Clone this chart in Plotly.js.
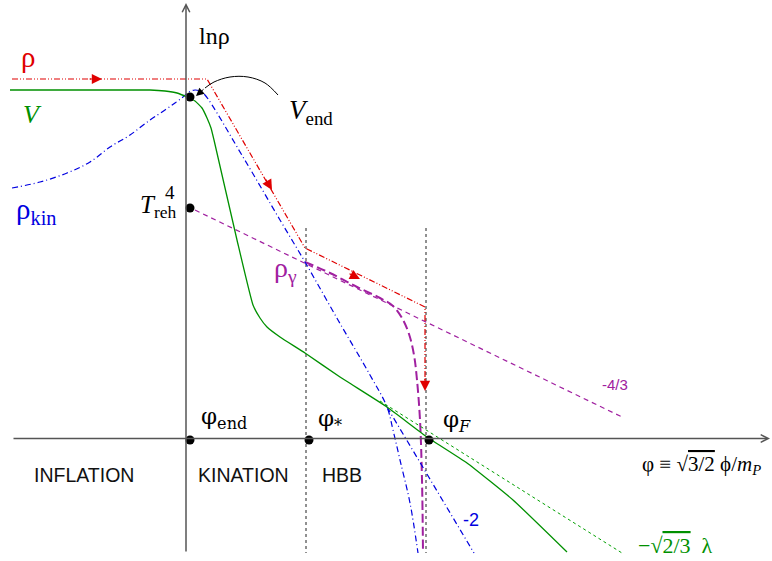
<!DOCTYPE html>
<html>
<head>
<meta charset="utf-8">
<script src="https://cdn.plot.ly/plotly-3.0.1.min.js"></script>
<style>html,body{margin:0;padding:0;background:#fff}#Graph{width:772px;height:561px}</style>
</head>
<body>
<div id="Graph"></div>
<script>
// schematic drawn in pixel-like units: x to the right, y downwards
var rhoX = [12, 207, 305, 425, 425];
var rhoY = [79, 79, 248, 307, 385];
// arrow tips and tails along the rho path
var rhoTipX = [102, 272, 360, 425];
var rhoTipY = [79, 190, 279, 391];
var rhoTailX = [88, 265, 348, 425];
var rhoTailY = [79, 178, 273, 377];

var kinX = [12, 40, 67, 90, 110, 130, 150, 165, 175, 183, 189, 195, 200, 205, 243, 280, 305, 338, 370, 387, 393, 400, 410, 418];
var kinY = [188, 182, 173, 162, 147, 135, 120, 110, 103, 97, 92, 90, 91, 95, 157, 220, 262, 320, 375, 407, 430, 460, 503, 553];
var kinSlopeX = [387, 474];
var kinSlopeY = [407, 553];

var vX = [10, 150, 165, 177, 187, 195, 202, 207, 211, 214, 237, 253, 260, 267, 280, 305, 340, 387, 427, 467, 513, 567];
var vY = [90, 90, 91, 93, 97, 101, 108, 118, 128, 140, 240, 305, 318, 327, 337, 353, 377, 407, 437, 463, 500, 552];
var lambdaX = [380, 622];
var lambdaY = [401, 553];

var gammaX = [195, 622];
var gammaY = [210, 417];
var gammaCurveX = [305, 330, 357, 380, 393, 402, 409, 414, 417, 420, 422, 423];
var gammaCurveY = [262, 273, 287, 298, 306, 318, 334, 355, 380, 420, 480, 553];

var phiLinesX = [306, 306, null, 426, 426];
var phiLinesY = [228, 553, null, 228, 553];

var dotX = [190, 190, 190, 309, 429];
var dotY = [97, 208, 440, 440, 440];

var arcX = [278, 265, 248, 230, 214, 205];
var arcY = [95, 83, 77, 77, 82, 88];

var axisX = 186, axisY = 438.5;

var labels = [
  ['ln\u03c1', 214, 36, 24, 'black', 'Liberation Serif'],
  ['\u03c1', 28, 57, 29, '#e00000', 'Liberation Serif'],
  ['<i>V</i>', 32, 114, 26, '#009000', 'Liberation Serif'],
  ['\u03c1<sub>kin</sub>', 36, 211, 29, '#0000e0', 'Liberation Serif'],
  ['<i>V</i><sub>end</sub>', 311, 112, 27, 'black', 'Liberation Serif'],
  ['<i>T</i><sub>reh</sub>', 158, 206, 25, 'black', 'Liberation Serif'],
  ['4', 170, 192, 19, 'black', 'Liberation Serif'],
  ['\u03c1<sub>\u03b3</sub>', 285, 269, 28, '#a020a0', 'Liberation Serif'],
  ['-4/3', 615, 384, 15, '#a020a0', 'Liberation Sans'],
  ['\u03c6<sub>end</sub>', 224, 418, 23, 'black', 'DejaVu Serif'],
  ['\u03c6<sub>*</sub>', 330, 420, 23, 'black', 'DejaVu Serif'],
  ['\u03c6<sub><i>F</i></sub>', 457, 421, 23, 'black', 'DejaVu Serif'],
  ['\u03c6 \u2261 \u221a<span style="text-decoration:overline">3/2</span> \u03d5/<i>m<sub>P</sub></i>', 701, 465, 21, 'black', 'Liberation Serif'],
  ['INFLATION', 84, 475, 19.5, '#111', 'Liberation Sans'],
  ['KINATION', 243, 475, 19.5, '#111', 'Liberation Sans'],
  ['HBB', 342, 475, 19.5, '#111', 'Liberation Sans'],
  ['-2', 471, 520, 18, '#0000e0', 'Liberation Sans'],
  ['\u2212\u221a<span style="text-decoration:overline">2/3</span>  \u03bb', 675, 545, 22, '#009000', 'Liberation Serif']
];

var traces = [
  {x: phiLinesX, y: phiLinesY, mode: 'lines', line: {color: '#222', width: 1, dash: 'dot'}},
  {x: gammaX, y: gammaY, mode: 'lines', line: {color: '#a020a0', width: 1.2, dash: '5px,4px'}},
  {x: gammaCurveX, y: gammaCurveY, mode: 'lines', line: {color: '#a020a0', width: 2, dash: '9px,4px', shape: 'spline'}},
  {x: kinX, y: kinY, mode: 'lines', line: {color: '#0000e0', width: 1.2, dash: '6px,3px,1px,3px', shape: 'spline'}},
  {x: kinSlopeX, y: kinSlopeY, mode: 'lines', line: {color: '#0000e0', width: 1.2, dash: '6px,3px,1px,3px'}},
  {x: vX, y: vY, mode: 'lines', line: {color: '#009000', width: 1.3, shape: 'spline', smoothing: 0.4}},
  {x: lambdaX, y: lambdaY, mode: 'lines', line: {color: '#00a000', width: 1, dash: 'dot'}},
  {x: rhoX, y: rhoY, mode: 'lines', line: {color: '#e00000', width: 1.2, dash: '6px,2px,1px,2px,1px,2px'}},
  {x: arcX, y: arcY, mode: 'lines', line: {color: 'black', width: 1, shape: 'spline'}},
  {x: dotX, y: dotY, mode: 'markers', marker: {color: 'black', size: 9}}
];

var annotations = labels.map(function (l) {
  return {text: l[0], x: l[1], y: l[2], xref: 'x', yref: 'y', showarrow: false,
    xanchor: 'center', yanchor: 'middle', font: {size: l[3], color: l[4], family: l[5]}};
});

function arrow(x, y, ax, ay, color, head, width, size) {
  return {x: x, y: y, ax: ax, ay: ay, axref: 'x', ayref: 'y', xref: 'x', yref: 'y',
    text: '', showarrow: true, arrowhead: head, arrowsize: size, arrowwidth: width,
    arrowcolor: color, standoff: 0, startstandoff: 0};
}
for (var i = 0; i < rhoTipX.length; i++) {
  annotations.push(arrow(rhoTipX[i], rhoTipY[i], rhoTailX[i], rhoTailY[i], '#e00000', 2, 1.2, 1.7));
}
annotations.push(arrow(196, 96, 205, 88, 'black', 2, 1, 1.6));
annotations.push(arrow(770, axisY, 12, axisY, '#555', 5, 1.5, 1));
annotations.push(arrow(axisX, 3, axisX, 553, '#555', 5, 1.5, 1));

var layout = {
  width: 772, height: 561,
  margin: {l: 0, r: 0, t: 0, b: 0},
  showlegend: false,
  paper_bgcolor: 'white', plot_bgcolor: 'white',
  xaxis: {range: [0, 772], visible: false, fixedrange: true},
  yaxis: {range: [561, 0], visible: false, fixedrange: true},
  annotations: annotations
};

Plotly.newPlot('Graph', traces, layout, {staticPlot: true});
</script>
</body>
</html>
